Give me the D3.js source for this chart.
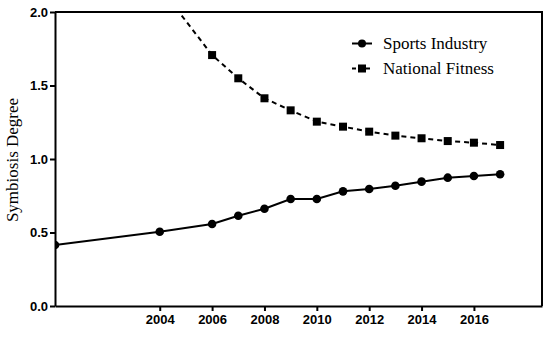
<!DOCTYPE html>
<html>
<head>
<meta charset="utf-8">
<script src="https://cdn.jsdelivr.net/npm/d3@7"></script>
<style>
  body { margin: 0; background: #fff; }
</style>
</head>
<body>
<div id="viz"></div>
<script>
const width = 487;
const height = 294;
const margin = { top: 12, right: 8, bottom: 33, left: 55 };

const years = [2000, 2004, 2006, 2007, 2008, 2009, 2010, 2011, 2012, 2013, 2014, 2015, 2016, 2017];
const sportsIndustry = [0.415, 0.505, 0.558, 0.614, 0.662, 0.728, 0.728, 0.780, 0.796, 0.818, 0.846, 0.873, 0.884, 0.896];
const fitnessYears = [2004, 2006, 2007, 2008, 2009, 2010, 2011, 2012, 2013, 2014, 2015, 2016, 2017];
const nationalFitness = [2.17, 1.707, 1.549, 1.413, 1.331, 1.254, 1.220, 1.186, 1.159, 1.141, 1.122, 1.111, 1.095];
const xTicks = [2004, 2006, 2008, 2010, 2012, 2014, 2016];
const yTicks = [0, 0.5, 1.0, 1.5, 2.0];

const serif = '"Liberation Serif", "DejaVu Serif", serif';

const container = d3.create('svg')
  .attr('width', width + margin.left + margin.right)
  .attr('height', height + margin.top + margin.bottom);

const chart = container.append('g')
  .attr('transform', `translate(${margin.left}, ${margin.top})`);

const x = d3.scaleLinear().domain([2000, 2018.6]).range([0, width]);
const y = d3.scaleLinear().domain([0, 2]).range([height, 0]);

chart.append('clipPath').attr('id', 'plot-clip')
  .append('rect').attr('width', width).attr('height', height);

// frame top/right
chart.append('path')
  .attr('d', `M0,0H${width}V${height}`)
  .attr('fill', 'none')
  .attr('stroke', '#000')
  .attr('stroke-width', 2);

const xaxis = chart.append('g')
  .attr('transform', `translate(0, ${height})`)
  .call(d3.axisBottom(x).tickValues(xTicks).tickFormat(d3.format('d')).tickSize(5).tickSizeOuter(0));

const yaxis = chart.append('g')
  .call(d3.axisLeft(y).tickValues(yTicks).tickFormat(d3.format('.1f')).tickSize(5).tickSizeOuter(0));

[xaxis, yaxis].forEach(ax => {
  ax.select('.domain').attr('stroke-width', 2);
  ax.selectAll('.tick line').attr('stroke-width', 2);
  ax.selectAll('text')
    .style('font-family', 'Liberation Sans, Arial, sans-serif')
    .style('font-weight', 700)
    .style('font-size', '13px')
    .attr('fill', '#000');
});
xaxis.selectAll('text').attr('y', 9);
yaxis.selectAll('text').attr('x', -7);

chart.append('text')
  .attr('transform', 'rotate(-90)')
  .attr('x', -148)
  .attr('y', -37)
  .style('text-anchor', 'middle')
  .style('font-family', serif)
  .style('font-size', '17px')
  .text('Symbiosis Degree');

const plot = chart.append('g').attr('clip-path', 'url(#plot-clip)');

const sportsData = years.map((d, i) => ({ year: d, value: sportsIndustry[i] }));
const fitnessData = fitnessYears.map((d, i) => ({ year: d, value: nationalFitness[i] }));

const line = d3.line().x(d => x(d.year)).y(d => y(d.value));

plot.append('path')
  .datum(fitnessData)
  .attr('d', line)
  .attr('fill', 'none')
  .attr('stroke', '#000')
  .attr('stroke-width', 2)
  .attr('stroke-dasharray', '5,4');

plot.append('path')
  .datum(sportsData)
  .attr('d', line)
  .attr('fill', 'none')
  .attr('stroke', '#000')
  .attr('stroke-width', 2);

plot.selectAll('.sq')
  .data(fitnessData)
  .enter()
  .append('rect')
  .attr('x', d => x(d.year) - 4)
  .attr('y', d => y(d.value) - 4)
  .attr('width', 8)
  .attr('height', 8)
  .attr('fill', '#000');

plot.selectAll('.dot')
  .data(sportsData)
  .enter()
  .append('circle')
  .attr('cx', d => x(d.year))
  .attr('cy', d => y(d.value))
  .attr('r', 4.3)
  .attr('fill', '#000');

// legend
const legend = container.append('g')
  .selectAll('.legend')
  .data(['Sports Industry', 'National Fitness'])
  .enter()
  .append('g')
  .attr('transform', (d, i) => `translate(352, ${43.5 + i * 25})`);

legend.append('line')
  .attr('x1', 0).attr('x2', 20)
  .attr('stroke', '#000')
  .attr('stroke-width', 2)
  .attr('stroke-dasharray', (d, i) => i === 1 ? '4,3' : null);

legend.filter((d, i) => i === 0).append('circle')
  .attr('cx', 10).attr('r', 4).attr('fill', '#000');

legend.filter((d, i) => i === 1).append('rect')
  .attr('x', 6).attr('y', -4).attr('width', 8).attr('height', 8).attr('fill', '#000');

legend.append('text')
  .attr('x', 31)
  .attr('dy', '0.35em')
  .style('font-family', serif)
  .style('font-size', '17px')
  .text(d => d);

d3.select('#viz').node().appendChild(container.node());
</script>
</body>
</html>
